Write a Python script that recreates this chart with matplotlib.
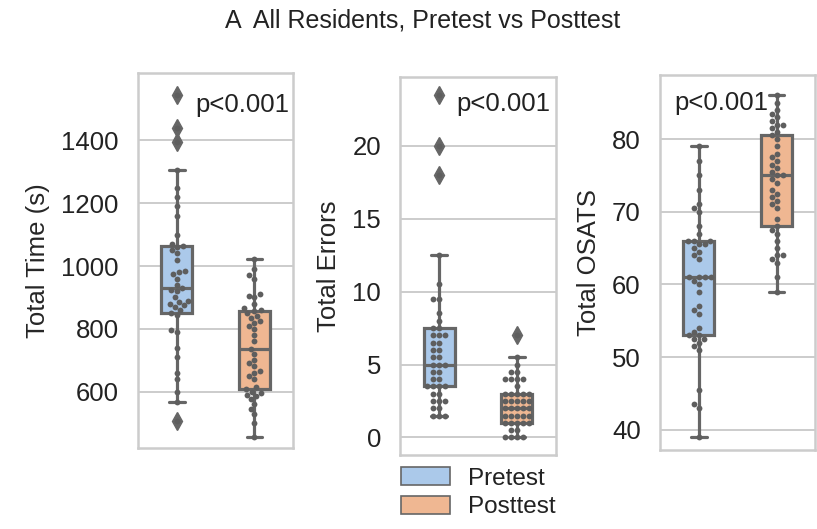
import matplotlib

matplotlib.use("Agg")
import matplotlib.pyplot as plt
import pandas as pd
import seaborn as sns
from matplotlib.patches import Patch

GROUPS = ["Pretest", "Posttest"]

TIME_PRE = [505, 567, 600, 640, 660, 710, 740, 790, 795, 845, 850, 860, 870,
            875, 880, 885, 890, 900, 920, 925, 930, 940, 960, 975, 980, 985,
            1020, 1040, 1050, 1060, 1065, 1070, 1100, 1160, 1190, 1220, 1250,
            1305, 1395, 1440, 1545]
TIME_POST = [455, 500, 530, 545, 560, 575, 585, 590, 595, 600, 608, 615, 640,
             650, 660, 665, 680, 690, 700, 720, 735, 760, 780, 800, 810, 820,
             825, 835, 840, 850, 858, 860, 865, 880, 900, 905, 910, 960, 970,
             990, 1021]

ERR_PRE = [1.5, 1.5, 1.5, 2, 2, 2.5, 2.5, 2.5, 3, 3, 3.5, 3.5, 3.5, 3.5, 4, 4,
           4.5, 4.5, 5, 5, 5, 5.5, 5.5, 6, 6, 6.5, 6.5, 7, 7, 7, 7.5, 7.5, 8,
           8.5, 9.5, 9.5, 10.5, 12.5, 18, 20, 23.5]
ERR_POST = [0, 0, 0, 0, 0.5, 0.5, 1, 1, 1, 1, 1, 1.5, 1.5, 1.5, 1.5, 1.5, 2, 2,
            2, 2, 2, 2.5, 2.5, 2.5, 2.5, 2.5, 3, 3, 3, 3, 3, 3.5, 4, 4, 4, 4,
            4.5, 4.5, 5, 5.5, 7]

OSATS_PRE = [39, 43, 43.5, 45.5, 51, 51.5, 52, 52.5, 52.5, 53, 53, 53.5, 54,
             56, 56.5, 57, 59, 60, 60.5, 61, 61, 61, 61, 63.5, 64, 64.5, 65,
             65.5, 65.5, 66, 66, 66, 67, 68, 70, 70.5, 71, 73, 75, 77, 79]
OSATS_POST = [59, 61, 63, 63.5, 64, 64, 65, 66, 67, 67.5, 68, 69, 70.5, 71,
              71.5, 72, 72.5, 73, 74, 74.5, 75, 75, 75.5, 76, 76.5, 77, 77.5,
              78, 79, 80, 80.5, 81, 81.5, 82, 82, 82.5, 83, 83.5, 84, 85, 86]

YLABELS = ["Total Time (s)", "Total Errors", "Total OSATS"]
YTICKS = [[600, 800, 1000, 1200, 1400], [0, 5, 10, 15, 20], [40, 50, 60, 70, 80]]
P_TEXT = "p<0.001"
TITLE = "A  All Residents, Pretest vs Posttest"

GRID = "#cccccc"
LINE = "#666666"
POINT = "#5e5e5e"
PALETTE = {"Pretest": "#a1c9f4", "Posttest": "#ffb482"}
FONT = ["Liberation Sans", "DejaVu Sans"]
SIZE = 18.5


def draw_panel(fig, rect, pre, post, ylabel, yticks, ylim, text_xy):
    ax = fig.add_axes(rect)
    frame = pd.DataFrame({
        "group": ["Pretest"] * len(pre) + ["Posttest"] * len(post),
        "value": list(pre) + list(post),
    })
    sns.boxplot(data=frame, x="group", y="value", hue="group", order=GROUPS,
                hue_order=GROUPS, palette=PALETTE, width=0.4, linewidth=2.3,
                linecolor=LINE, legend=False, ax=ax,
                flierprops={"marker": "d", "markersize": 9,
                            "markerfacecolor": LINE, "markeredgecolor": LINE})
    sns.swarmplot(data=frame, x="group", y="value", order=GROUPS,
                  color=POINT, size=4.2, ax=ax)
    ax.set_xlim(-0.5, 1.5)
    ax.set_ylim(*ylim)
    ax.set_xticks([])
    ax.set_xlabel("")
    ax.set_yticks(yticks)
    ax.set_ylabel(ylabel, fontsize=SIZE, labelpad=8)
    ax.tick_params(axis="y", labelsize=SIZE, pad=14, length=0)
    ax.grid(axis="y", color=GRID, linewidth=1.4)
    ax.grid(axis="x", visible=False)
    for spine in ax.spines.values():
        spine.set_visible(True)
        spine.set_color(GRID)
        spine.set_linewidth(1.8)
    ax.text(text_xy[0], text_xy[1], P_TEXT, transform=ax.transAxes,
            fontsize=SIZE, ha="left", va="center")
    return ax


def main() -> None:
    sns.set_style("whitegrid")
    plt.rcParams["font.family"] = FONT
    plt.rcParams["text.color"] = "#222222"
    plt.rcParams["ytick.color"] = "#222222"

    fig = plt.figure(figsize=(8.17, 5.29), dpi=100)
    fig.text(0.517, 0.962, TITLE, ha="center", va="center", fontsize=18)

    draw_panel(fig, [0.169, 0.153, 0.190, 0.709], TIME_PRE, TIME_POST,
               YLABELS[0], YTICKS[0], (420, 1615), (0.37, 0.915))
    draw_panel(fig, [0.490, 0.140, 0.190, 0.714], ERR_PRE, ERR_POST,
               YLABELS[1], YTICKS[1], (-1.2, 24.7), (0.36, 0.93))
    draw_panel(fig, [0.808, 0.149, 0.190, 0.709], OSATS_PRE, OSATS_POST,
               YLABELS[2], YTICKS[2], (37.2, 88.8), (0.09, 0.925))

    # 凡例は中央パネルの下に置く
    handles = [Patch(facecolor=sns.desaturate(PALETTE[g], 0.75),
                     edgecolor=LINE, linewidth=1.2, label=g) for g in GROUPS]
    fig.legend(handles=handles, loc="upper left",
               bbox_to_anchor=(0.491, 0.117), frameon=False, fontsize=17.5,
               borderpad=0, borderaxespad=0, handlelength=2.0,
               handleheight=0.78, labelspacing=0.25, handletextpad=0.75)

    fig.savefig("out.png", dpi=100, facecolor="white")
    plt.close(fig)


if __name__ == "__main__":
    main()
